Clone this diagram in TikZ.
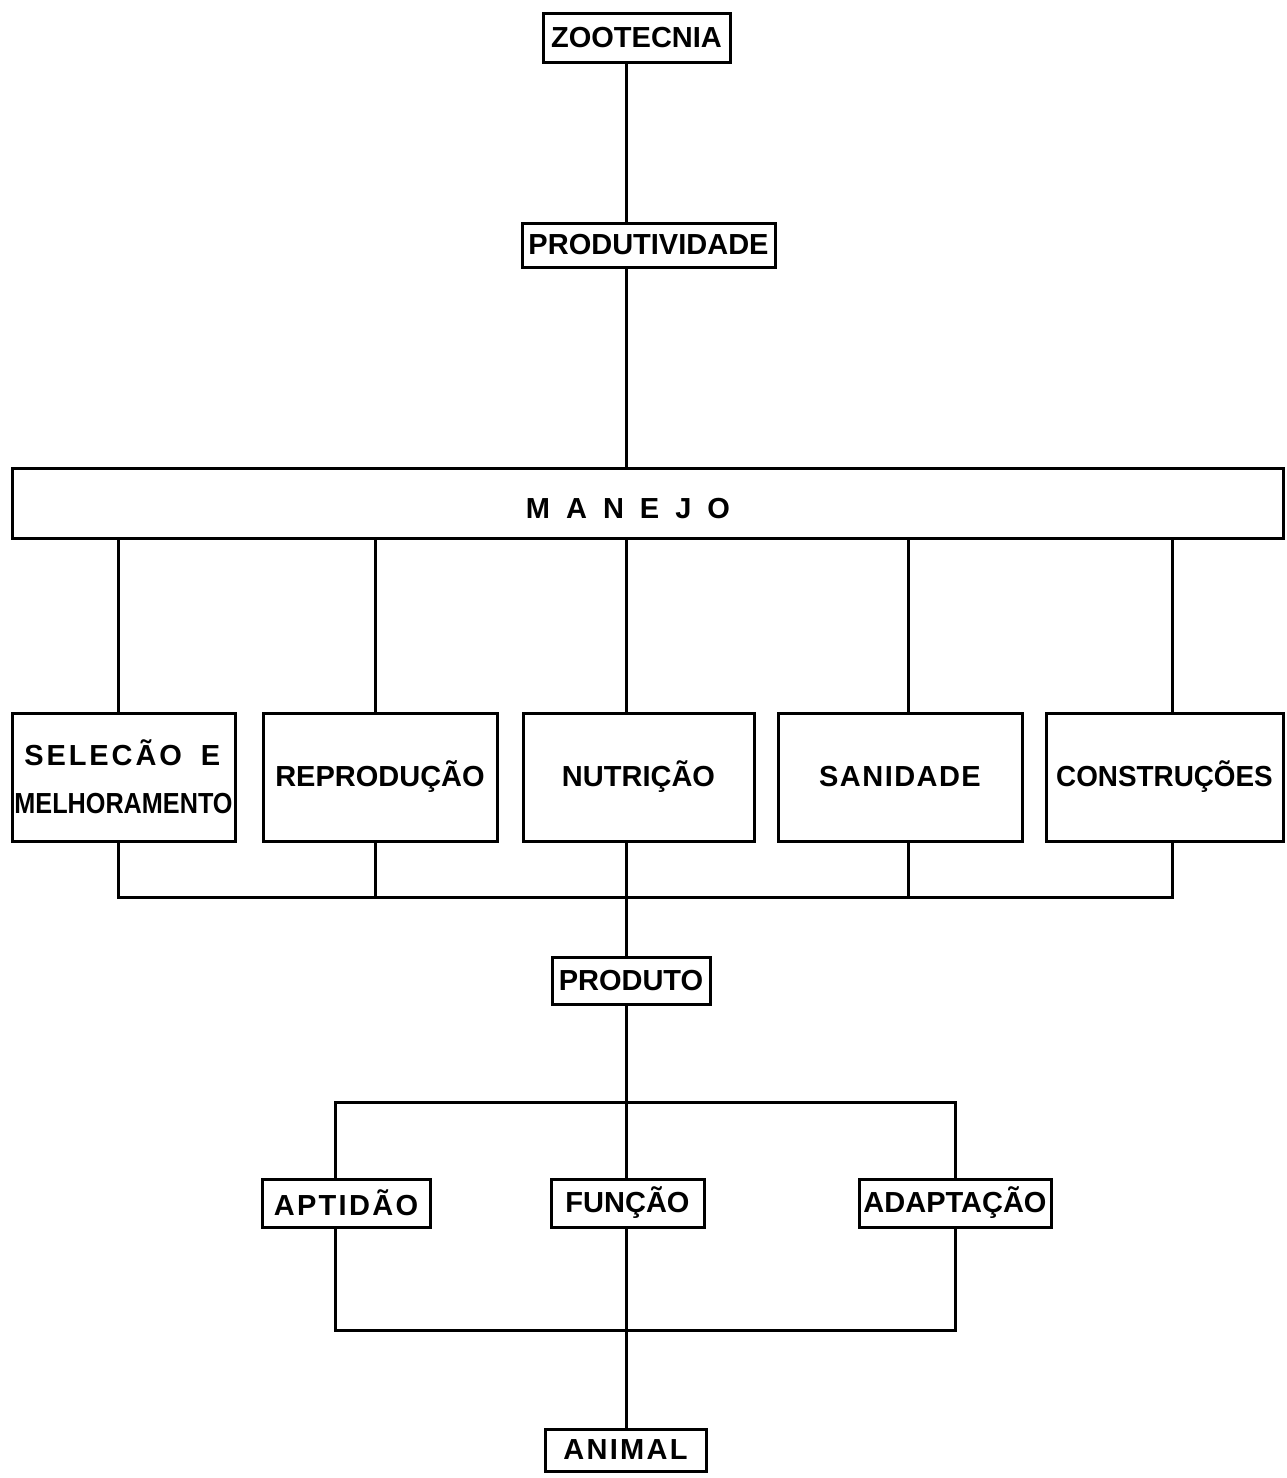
\documentclass[tikz,border=0pt]{standalone}
\usepackage{fontspec}
\usepackage{graphicx}
\setmainfont{Liberation Sans}
\begin{document}
\begin{tikzpicture}[x=1pt,y=-1pt,
  box/.style={draw, line width=3pt, inner sep=0pt,
    font=\fontsize{29}{48}\selectfont\bfseries, align=center},
  lbl/.style={inner sep=0pt, font=\fontsize{29}{30}\selectfont\bfseries},
  wire/.style={line width=3pt, line join=miter}]
\useasboundingbox (0,0) rectangle (1287,1478);

% top chain
\node[box, minimum width=187pt, minimum height=49pt] (zoot) at (636.5,37.5) {ZOOTECNIA};
\node[box, minimum width=253pt, minimum height=44pt] (prod) at (648.5,245) {PRODUTIVIDADE};
\node[box, minimum width=1271pt, minimum height=70pt] (manejo) at (647.5,503) {};
\node[lbl] (mtext) at (628,509) {M\hspace{16pt}A\hspace{16pt}N\hspace{16pt}E\hspace{16pt}J\hspace{16pt}O};

% second row
\node[box, minimum width=223pt, minimum height=128pt, align=left] (sel) at (123.5,777)
  {\hspace{10pt}{\addfontfeature{LetterSpace=10}SELECÃO\hspace{8pt} E}\\\scalebox{0.87}[1]{MELHORAMENTO}};
\node[box, minimum width=234pt, minimum height=128pt] (rep) at (380,777) {REPRODUÇÃO};
\node[box, minimum width=231pt, minimum height=128pt] (nut) at (638.5,777) {NUTRIÇÃO};
\node[box, minimum width=244pt, minimum height=128pt] (san) at (900,777) {{\addfontfeature{LetterSpace=5}SANIDADE}};
\node[box, minimum width=237pt, minimum height=128pt] (con) at (1164.5,777) {\scalebox{0.96}[1]{CONSTRUÇÕES}};

% lower part
\node[box, minimum width=158pt, minimum height=47pt] (produto) at (631,980.5) {PRODUTO};
\node[box, minimum width=168pt, minimum height=48pt] (apt) at (346,1203) {{\addfontfeature{LetterSpace=8}APTIDÃO}};
\node[box, minimum width=153pt, minimum height=48pt] (func) at (627.5,1203) {FUNÇÃO};
\node[box, minimum width=192pt, minimum height=48pt] (adap) at (955,1203) {ADAPTAÇÃO};
\node[box, minimum width=161pt, minimum height=42pt] (animal) at (625.5,1450) {{\addfontfeature{LetterSpace=8}ANIMAL}};

% reference coordinates for vertical lines / buses
\coordinate (sp) at (626,0);
\coordinate (b1) at (118,0);
\coordinate (b2) at (375,0);
\coordinate (b4) at (908,0);
\coordinate (b5) at (1172,0);
\coordinate (bus1) at (0,897);
\coordinate (bl) at (335,0);
\coordinate (br) at (955,0);
\coordinate (bus2) at (0,1102);
\coordinate (bus3) at (0,1330);

% connectors
\draw[wire] (sp |- zoot.south) -- (sp |- prod.north);
\draw[wire] (sp |- prod.south) -- (sp |- manejo.north);

\draw[wire] (b1 |- manejo.south) -- (b1 |- sel.north);
\draw[wire] (b2 |- manejo.south) -- (b2 |- rep.north);
\draw[wire] (sp |- manejo.south) -- (sp |- nut.north);
\draw[wire] (b4 |- manejo.south) -- (b4 |- san.north);
\draw[wire] (b5 |- manejo.south) -- (b5 |- con.north);

\draw[wire] (b1 |- sel.south) -- (b1 |- bus1) -- (b5 |- bus1) -- (b5 |- con.south);
\draw[wire] (b2 |- rep.south) -- (b2 |- bus1);
\draw[wire] (b4 |- san.south) -- (b4 |- bus1);
\draw[wire] (sp |- nut.south) -- (sp |- produto.north);

\draw[wire] (sp |- produto.south) -- (sp |- func.north);
\draw[wire] (bl |- apt.north) -- (bl |- bus2) -- (br |- bus2) -- (br |- adap.north);
\draw[wire] (bl |- apt.south) -- (bl |- bus3) -- (br |- bus3) -- (br |- adap.south);
\draw[wire] (sp |- func.south) -- (sp |- animal.north);
\end{tikzpicture}
\end{document}
